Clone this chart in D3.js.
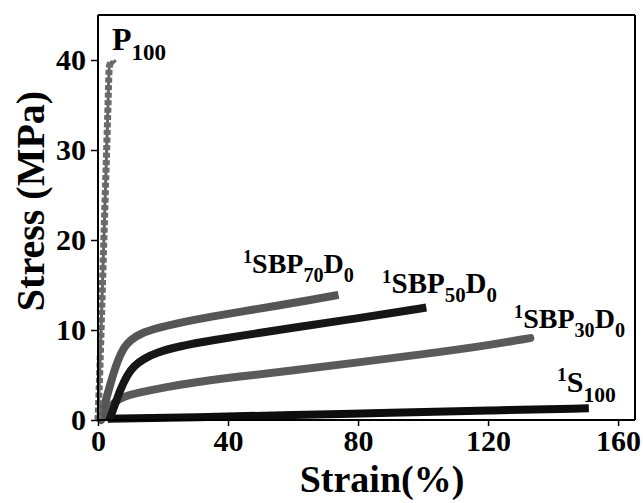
<!DOCTYPE html>
<html><head><meta charset="utf-8">
<script src="https://cdn.jsdelivr.net/npm/d3@7"></script>
<style>
html,body{margin:0;padding:0;background:#fff;}
svg{display:block;}
text{font-family:"Liberation Serif","Times New Roman",serif;font-weight:bold;fill:#000;}
</style></head>
<body><svg id="c" width="643" height="503"></svg>
<script>
// ---- data (strain %, stress MPa) ----
const xTicks = [0, 40, 80, 120, 160];
const yTicks = [0, 10, 20, 30, 40];
const seriesNames = ["P100", "SBP70D0", "SBP50D0", "SBP30D0", "S100"];
const P100 = [[0,0],[0.6,6],[1.2,13],[1.8,20],[2.4,27],[3.0,34],[3.5,39.3],[4.3,39.8],[5.0,39.6]];
const SBP70D0 = [[0.5,0],[2,1.6],[4,4.3],[6,6.6],[8,8.1],[10,8.9],[13,9.6],[18,10.2],[25,10.8],[35,11.5],[45,12.1],[55,12.7],[65,13.3],[74,13.9]];
const SBP50D0 = [[3.5,0],[5,1.5],[7,3.5],[9,5.0],[11,6.0],[14,6.8],[18,7.5],[25,8.2],[35,8.85],[50,9.7],[62,10.35],[75,11.05],[90,11.85],[101,12.5]];
const SBP30D0 = [[1,0],[3,1.2],[5,2.0],[8,2.6],[12,3.0],[20,3.6],[30,4.2],[45,4.9],[60,5.5],[80,6.4],[100,7.3],[120,8.3],[133,9.1]];
const S100 = [[3,0.15],[30,0.3],[60,0.55],[90,0.8],[120,1.05],[151,1.3]];
// label anchors in data coordinates
const labelAnchors = [[4.3,41.1],[44.6,16.33],[87.4,14.1],[128,10.2],[141.2,3.1]];

// ---- layout ----
const svg = d3.select("#c");
const x = d3.scaleLinear().domain([0, 165.2]).range([98, 635]);
const y = d3.scaleLinear().domain([0, 45]).range([420, 15]);

// frame top/right
svg.append("line").attr("x1", x(0)).attr("x2", x(165.2)).attr("y1", y(45)).attr("y2", y(45)).attr("stroke","#000").attr("stroke-width",2);
svg.append("line").attr("x1", x(165.2)).attr("x2", x(165.2)).attr("y1", y(45)).attr("y2", y(0)).attr("stroke","#000").attr("stroke-width",2);

const line = d3.line().x(d => x(d[0])).y(d => y(d[1])).curve(d3.curveBasis);
const lineP = d3.line().x(d => x(d[0])).y(d => y(d[1])).curve(d3.curveMonotoneX);

const styles = {
  SBP70D0:{color:"#555555", w:8, cap:"butt"},
  SBP50D0:{color:"#161616", w:8, cap:"butt"},
  SBP30D0:{color:"#5a5a5a", w:8, cap:"round"},
  S100:   {color:"#0d0d0d", w:8, cap:"butt"}
};
const dataMap = {P100, SBP70D0, SBP50D0, SBP30D0, S100};
const plot = svg.append("g");
["S100","SBP30D0","SBP50D0","SBP70D0"].forEach(n => {
  plot.append("path").datum(dataMap[n]).attr("d", line)
    .attr("fill","none").attr("stroke", styles[n].color)
    .attr("stroke-width", styles[n].w).attr("stroke-linecap", styles[n].cap)
    .attr("stroke-linejoin","round");
});
// P100 dotted thick line
plot.append("path").datum(P100).attr("d", lineP).attr("fill","none")
  .attr("stroke","#666").attr("stroke-width",3);
plot.append("path").datum(P100).attr("d", lineP).attr("fill","none")
  .attr("stroke","#6a6a6a").attr("stroke-width",7).attr("stroke-dasharray","5 2.5");

// axes
const yAxis = d3.axisLeft(y).tickValues(yTicks).tickSize(7).tickPadding(5).tickFormat(d3.format("d"));
const xAxis = d3.axisBottom(x).tickValues(xTicks).tickSize(6).tickPadding(4).tickFormat(d3.format("d"));
const gy = svg.append("g").attr("transform", `translate(${x(0)},0)`).call(yAxis);
const gx = svg.append("g").attr("transform", `translate(0,${y(0)})`).call(xAxis);
[gx, gy].forEach(g => {
  g.select(".domain").attr("stroke","#000").attr("stroke-width",2);
  g.selectAll(".tick line").attr("stroke","#000").attr("stroke-width",1.5);
  g.selectAll(".tick text").attr("font-size",30).attr("font-family",'"Liberation Serif",serif').attr("font-weight","bold").attr("fill","#000");
});
gx.select(".domain").attr("d", `M${x(0)},0H${x(165.2)}`);
gy.select(".domain").attr("d", `M0,${y(0)}V${y(45)}`);

// axis titles
svg.append("text").attr("x", 382).attr("y", 492).attr("text-anchor","middle").attr("font-size",38).text("Strain(%)");
svg.append("text").attr("transform","translate(44,201) rotate(-90)").attr("text-anchor","middle").attr("font-size",40).text("Stress (MPa)");

// curve labels
const labelParts = [
  [["P",""],["100","sub"]],
  [["1","sup"],["SBP",""],["70","sub"],["D",""],["0","sub"]],
  [["1","sup"],["SBP",""],["50","sub"],["D",""],["0","sub"]],
  [["1","sup"],["SBP",""],["30","sub"],["D",""],["0","sub"]],
  [["1","sup"],["S",""],["100","sub"]]
];
const labelSizes = [32, 28, 29, 28, 30];
labelParts.forEach((parts, i) => {
  const fs = labelSizes[i];
  const t = svg.append("text").attr("x", x(labelAnchors[i][0])).attr("y", y(labelAnchors[i][1])).attr("font-size", fs);
  let shift = 0;
  parts.forEach(([s, kind]) => {
    let target = 0, size = fs;
    if (kind === "sub") { target = fs*0.32; size = fs*0.72; }
    if (kind === "sup") { target = -fs*0.36; size = fs*0.65; }
    t.append("tspan").attr("dy", target - shift).attr("font-size", size).text(s);
    shift = target;
  });
});
</script></body></html>
